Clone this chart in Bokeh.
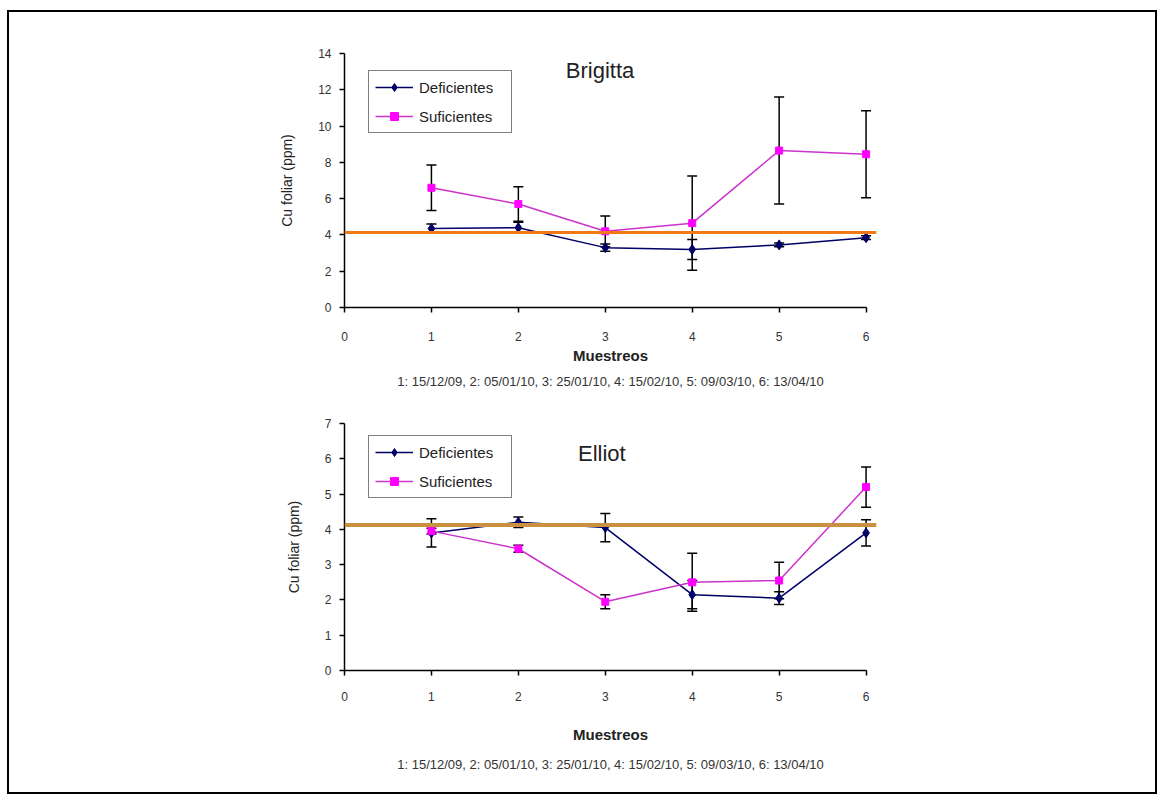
from bokeh.plotting import figure
from bokeh.models import (ColumnDataSource, Whisker, TeeHead, Legend, LegendItem,
                          Span, Label, FixedTicker, Range1d, Title)
from bokeh.layouts import column
from bokeh.embed import file_html
from bokeh.resources import INLINE

# ---------------- data ----------------
muestreos = [1, 2, 3, 4, 5, 6]
x_ticks = [0, 1, 2, 3, 4, 5, 6]
fechas = "1: 15/12/09, 2: 05/01/10, 3: 25/01/10, 4: 15/02/10, 5: 09/03/10, 6: 13/04/10"

brig_def = [4.35, 4.4, 3.3, 3.2, 3.45, 3.85]
brig_def_err = [0.25, 0.3, 0.2, 0.55, 0.1, 0.1]
brig_suf = [6.6, 5.7, 4.2, 4.65, 8.65, 8.45]
brig_suf_err = [1.25, 0.95, 0.85, 2.6, 2.95, 2.4]

ell_def = [3.9, 4.2, 4.05, 2.15, 2.05, 3.9]
ell_def_err = [0.4, 0.15, 0.4, 0.4, 0.18, 0.37]
ell_suf = [3.95, 3.45, 1.95, 2.5, 2.55, 5.2]
ell_suf_err = [0.08, 0.1, 0.2, 0.82, 0.52, 0.57]

brig_y_ticks = [0, 2, 4, 6, 8, 10, 12, 14]
ell_y_ticks = [0, 1, 2, 3, 4, 5, 6, 7]
umbral_brig = 4.13
umbral_ell = 4.12

FONT = "Liberation Sans"
DEF_COLOR = "#000066"
SUF_LINE = "#CC33CC"
SUF_MARK = "#FF00FF"


def make_chart(title, y_def, e_def, y_suf, e_suf, yticks, umbral, umbral_color,
               umbral_width, width, height, bl, br, bt, bb, title_xy,
               legend_loc, tick_standoff, xlabel_standoff, fechas_standoff):
    p = figure(width=width, height=height, output_backend="svg", toolbar_location=None,
               x_range=Range1d(0, 6.12), y_range=Range1d(yticks[0], yticks[-1]),
               min_border_left=bl, min_border_right=br, min_border_top=bt,
               min_border_bottom=bb)
    p.outline_line_color = None
    p.grid.visible = False
    p.background_fill_color = "white"
    p.border_fill_color = "white"

    for ax in (p.xaxis[0], p.yaxis[0]):
        ax.axis_line_color = "black"
        ax.axis_line_width = 1.5
        ax.major_tick_line_color = "black"
        ax.major_tick_line_width = 1.5
        ax.major_tick_out = 5
        ax.major_tick_in = 0
        ax.minor_tick_line_color = None
        ax.major_label_text_font = FONT
        ax.major_label_text_font_size = "12px"
        ax.major_label_text_color = "#333333"
        ax.axis_label_text_font = FONT
        ax.axis_label_text_color = "#222222"

    p.xaxis.ticker = FixedTicker(ticks=x_ticks)
    p.xaxis.bounds = (0, 6)
    p.yaxis.ticker = FixedTicker(ticks=yticks)
    p.xaxis.major_label_standoff = tick_standoff
    p.yaxis.major_label_standoff = 8
    p.xaxis.axis_label = "Muestreos"
    p.xaxis.axis_label_text_font_style = "bold"
    p.xaxis.axis_label_text_font_size = "15px"
    p.xaxis.axis_label_standoff = xlabel_standoff
    p.yaxis.axis_label = "Cu foliar (ppm)"
    p.yaxis.axis_label_text_font_style = "normal"
    p.yaxis.axis_label_text_font_size = "14px"
    p.yaxis.axis_label_standoff = 20

    src_def = ColumnDataSource(dict(x=muestreos, y=y_def,
                                    lo=[v - e for v, e in zip(y_def, e_def)],
                                    up=[v + e for v, e in zip(y_def, e_def)]))
    src_suf = ColumnDataSource(dict(x=muestreos, y=y_suf,
                                    lo=[v - e for v, e in zip(y_suf, e_suf)],
                                    up=[v + e for v, e in zip(y_suf, e_suf)]))

    l_def = p.line("x", "y", source=src_def, line_color=DEF_COLOR, line_width=1.5)
    l_suf = p.line("x", "y", source=src_suf, line_color=SUF_LINE, line_width=1.5)

    for src in (src_def, src_suf):
        w = Whisker(source=src, base="x", upper="up", lower="lo",
                    line_color="black", line_width=1.5,
                    upper_head=TeeHead(size=10, line_color="black", line_width=1.5),
                    lower_head=TeeHead(size=10, line_color="black", line_width=1.5))
        p.add_layout(w)

    m_def = p.scatter("x", "y", source=src_def, marker="diamond", size=10,
                      fill_color=DEF_COLOR, line_color=DEF_COLOR)
    m_suf = p.scatter("x", "y", source=src_suf, marker="square", size=7,
                      fill_color=SUF_MARK, line_color=SUF_MARK)

    p.add_layout(Span(location=umbral, dimension="width", line_color=umbral_color,
                      line_width=umbral_width))

    legend = Legend(items=[LegendItem(label="Deficientes", renderers=[l_def, m_def]),
                           LegendItem(label="Suficientes", renderers=[l_suf, m_suf])],
                    location=legend_loc, border_line_color="black", border_line_width=1.5,
                    background_fill_color="white", background_fill_alpha=1.0,
                    label_text_font=FONT, label_text_font_size="15px",
                    label_text_color="#222222", label_width=86,
                    glyph_width=38, glyph_height=20, label_height=20,
                    label_standoff=6, spacing=9, padding=6, margin=0)
    p.add_layout(legend)

    p.add_layout(Label(x=title_xy[0], y=title_xy[1], text=title, text_align="center",
                       text_baseline="middle", text_font=FONT, text_font_size="22px",
                       text_color="#222222"))
    p.add_layout(Title(text=fechas, align="center", text_font=FONT,
                       text_font_size="13px", text_font_style="normal",
                       text_color="#333333", standoff=fechas_standoff), "below")
    return p


p1 = make_chart("Brigitta", brig_def, brig_def_err, brig_suf, brig_suf_err,
                brig_y_ticks, umbral_brig, "#F07A18", 3,
                1146, 392, 335, 279, 41, 97, (2.94, 13.05), (24, 174),
                19, 3, 11)
p2 = make_chart("Elliot", ell_def, ell_def_err, ell_suf, ell_suf_err,
                ell_y_ticks, umbral_ell, "#C99040", 4,
                1146, 388, 332, 273, 19, 122, (2.96, 6.14), (24, 172),
                16, 22, 18)

layout = column(p1, p2, spacing=0,
                styles={"border": "2px solid black", "background-color": "white",
                        "margin-left": "7px", "margin-top": "10px"})

open("out.html", "w").write(file_html(layout, INLINE))
